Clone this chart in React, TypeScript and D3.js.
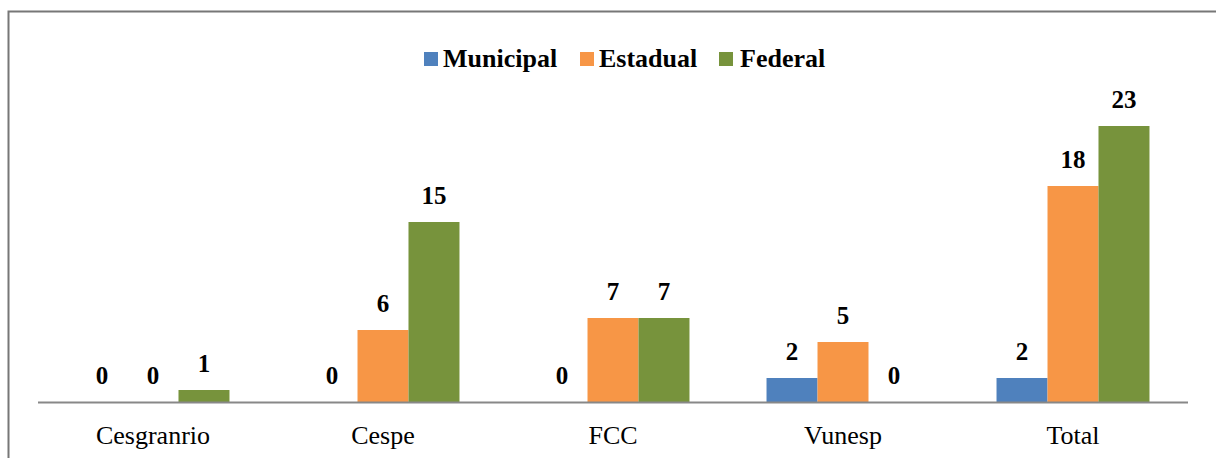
import React from 'react';
import * as d3 from 'd3';

const categories = ['Cesgranrio', 'Cespe', 'FCC', 'Vunesp', 'Total'];
const seriesNames = ['Municipal', 'Estadual', 'Federal'];
const municipal = [0, 0, 0, 2, 2];
const estadual = [0, 6, 7, 5, 18];
const federal = [1, 15, 7, 0, 23];
const seriesColors = ['#4F81BD', '#F79646', '#77933C'];

const W = 1216;
const H = 458;

export default function App() {
  const values = [municipal, estadual, federal];
  const axisLeft = 38;
  const axisRight = 1188;
  const baseY = 402;

  const x0 = d3
    .scaleBand<string>()
    .domain(categories)
    .range([axisLeft, axisRight])
    .paddingInner(0.335)
    .paddingOuter(0.1675);
  const x1 = d3.scaleBand<string>().domain(seriesNames).range([0, x0.bandwidth()]);
  const y = d3.scaleLinear().domain([0, 25]).range([baseY, 102]);

  const font = "'Liberation Serif', serif";

  // legend layout
  const legendItems = [
    { name: 'Municipal', sq: 424, tx: 443 },
    { name: 'Estadual', sq: 580, tx: 599 },
    { name: 'Federal', sq: 719, tx: 740 }
  ];

  return (
    <svg width={W} height={H} style={{ position: 'absolute', left: 0, top: 0, fontFamily: font }}>
      <rect x={0} y={0} width={W} height={H} fill="#fff" />
      <rect x={8.5} y={11.5} width={W + 10} height={H + 10} fill="none" stroke="#777" strokeWidth={2} />

      {/* bars */}
      {categories.map((c, ci) => (
        <g key={c} transform={`translate(${x0(c)},0)`}>
          {seriesNames.map((s, si) => {
            const v = values[si][ci];
            return (
              <g key={s}>
                {v > 0 && (
                  <rect
                    x={x1(s)}
                    y={y(v)}
                    width={x1.bandwidth()}
                    height={baseY - y(v)}
                    fill={seriesColors[si]}
                  />
                )}
                <text
                  x={(x1(s) || 0) + x1.bandwidth() / 2}
                  y={y(v) - 18}
                  textAnchor="middle"
                  style={{ fontFamily: font, fontWeight: 'bold', fontSize: 25 }}
                  fill="#000"
                >
                  {v}
                </text>
              </g>
            );
          })}
        </g>
      ))}

      {/* axis */}
      <line x1={axisLeft} x2={axisRight} y1={baseY + 0.5} y2={baseY + 0.5} stroke="#888" strokeWidth={2} />
      {categories.map((c) => (
        <text
          key={c}
          x={(x0(c) || 0) + x0.bandwidth() / 2}
          y={444}
          textAnchor="middle"
          style={{ fontFamily: font, fontSize: 26 }}
          fill="#000"
        >
          {c}
        </text>
      ))}

      {/* legend */}
      {legendItems.map((it, i) => (
        <g key={it.name}>
          <rect x={it.sq} y={52} width={14} height={14} fill={seriesColors[i]} />
          <text
            x={it.tx}
            y={67}
            style={{ fontFamily: font, fontWeight: 'bold', fontSize: 26 }}
            fill="#000"
          >
            {it.name}
          </text>
        </g>
      ))}
    </svg>
  );
}
